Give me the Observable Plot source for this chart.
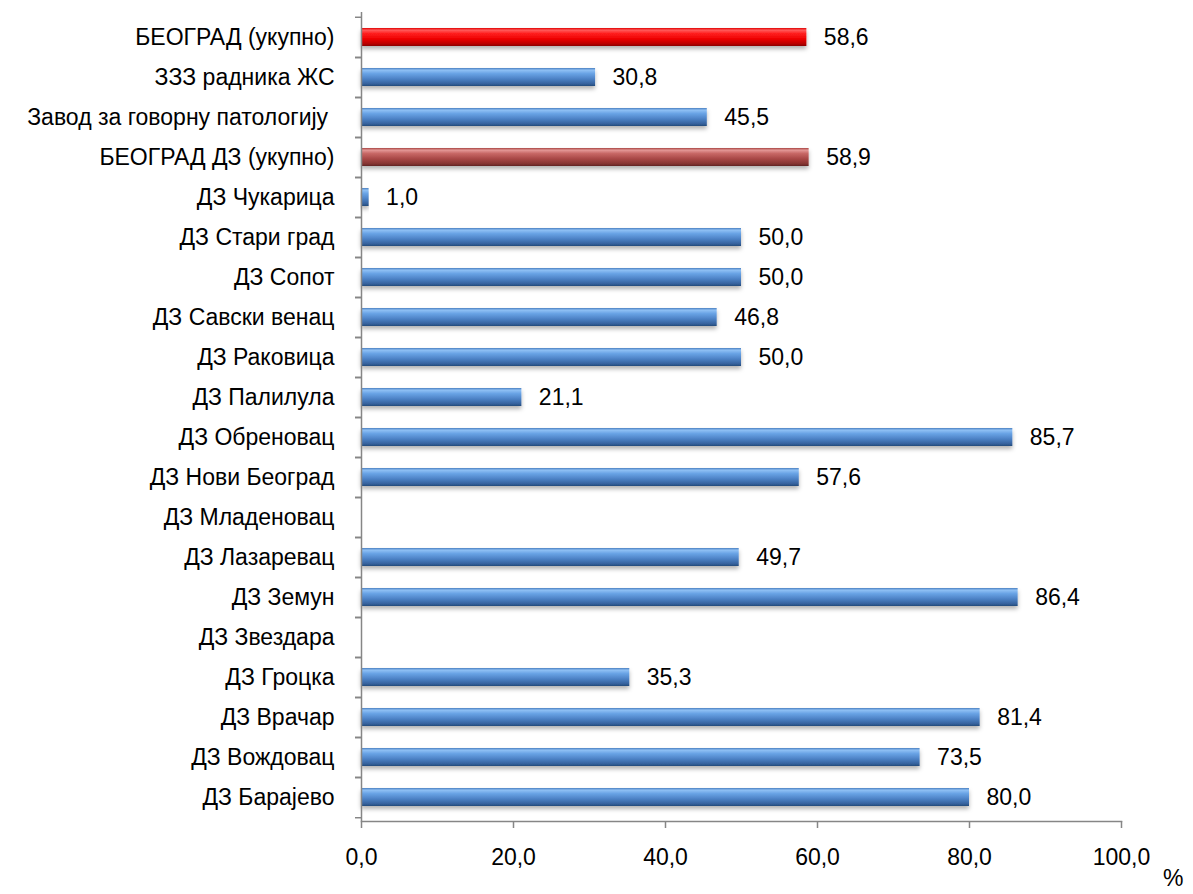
<!DOCTYPE html>
<html>
<head>
<meta charset="utf-8">
<script src="https://cdn.jsdelivr.net/npm/d3@7"></script>
<script src="https://cdn.jsdelivr.net/npm/@observablehq/plot@0.6"></script>
<style>
  html, body { margin: 0; padding: 0; background: #fff; }
  #chart svg { display: block; }
</style>
</head>
<body>
<div id="chart"></div>
<script>
const categories = [
  "БЕОГРАД (укупно)", "ЗЗЗ радника ЖС", "Завод за говорну патологију\u00a0", "БЕОГРАД ДЗ (укупно)",
  "ДЗ Чукарица", "ДЗ Стари град", "ДЗ Сопот", "ДЗ Савски венац", "ДЗ Раковица", "ДЗ Палилула",
  "ДЗ Обреновац", "ДЗ Нови Београд", "ДЗ Младеновац", "ДЗ Лазаревац", "ДЗ Земун", "ДЗ Звездара",
  "ДЗ Гроцка", "ДЗ Врачар", "ДЗ Вождовац", "ДЗ Барајево"
];
const values = [58.6, 30.8, 45.5, 58.9, 1.0, 50.0, 50.0, 46.8, 50.0, 21.1,
                85.7, 57.6, null, 49.7, 86.4, null, 35.3, 81.4, 73.5, 80.0];
const groups = ["city", "other", "other", "dz", "other", "other", "other", "other", "other", "other",
                "other", "other", "other", "other", "other", "other", "other", "other", "other", "other"];
const xTicks = [0, 20, 40, 60, 80, 100];
const unitLabel = "%";

const data = categories.map((c, i) => ({name: c, value: values[i], group: groups[i]}));
const withValue = data.filter(d => d.value != null);

const W = 1193, H = 894;
const mt = 12, mb = 73, ml = 361, mr = 72;
const step = (H - mt - mb) / categories.length;
const fmt = v => d3.format(".1f")(v).replace(".", ",");
const axisColor = "#868686";
const font = "'Liberation Sans', Arial, sans-serif";
const fs = 23;

const barOpts = (fill, grp) => ({
  filter: d => d.group === grp,
  x: "value", y: "name", fill
});

const plot = Plot.plot({
  width: W, height: H,
  marginTop: mt, marginBottom: mb, marginLeft: ml, marginRight: mr,
  style: {fontFamily: font, fontSize: fs + "px", color: "#000", background: "#fff", overflow: "visible"},
  x: {domain: [0, 100], label: null},
  y: {domain: categories, paddingInner: 0.55, paddingOuter: 0.275, label: null},
  marks: [
    Plot.barX(withValue, barOpts("url(#gBlue)", "other")),
    Plot.barX(withValue, barOpts("url(#gRed)", "city")),
    Plot.barX(withValue, barOpts("url(#gDark)", "dz")),
    Plot.text(withValue, {x: "value", y: "name", text: d => fmt(d.value), textAnchor: "start", dx: 17, fontSize: fs, fill: "#000"}),
    Plot.ruleX([0], {stroke: axisColor, strokeWidth: 1.5}),
    Plot.frame({anchor: "bottom", stroke: axisColor, strokeWidth: 1.5}),
    Plot.axisY({tickSize: 0, tickPadding: 27, fontSize: fs, fill: "#000"}),
    Plot.axisY({tickSize: 6, text: null, dy: -step / 2, stroke: axisColor, strokeWidth: 1.5, strokeOpacity: 1}),
    Plot.axisY({tickSize: 6, text: null, dy: step / 2, stroke: axisColor, strokeWidth: 1.5, strokeOpacity: 1}),
    Plot.axisX({ticks: xTicks, text: null, tickSize: 7, stroke: axisColor, strokeWidth: 1.5, strokeOpacity: 1}),
    Plot.text(xTicks, {x: d => d, text: d => fmt(d), frameAnchor: "bottom", lineAnchor: "middle", dy: 36, fontSize: fs, fill: "#000"}),
    Plot.text([unitLabel], {frameAnchor: "bottom-right", dx: 62, dy: 64, fontSize: fs, fill: "#000"})
  ]
});

const svg = d3.select(plot);
const defs = svg.insert("defs", ":first-child");
function grad(id, stops) {
  const g = defs.append("linearGradient").attr("id", id).attr("x1", 0).attr("y1", 0).attr("x2", 0).attr("y2", 1);
  stops.forEach(([o, c]) => g.append("stop").attr("offset", o).attr("stop-color", c));
}
grad("gBlue", [[0, "#4a7fc0"], [0.12, "#8fc0f4"], [0.3, "#6aa4e6"], [0.6, "#4d82c6"], [0.88, "#35629c"], [1, "#234a7a"]]);
grad("gRed", [[0, "#e00000"], [0.12, "#ff5a5a"], [0.3, "#ff2020"], [0.6, "#ee0000"], [0.88, "#b80000"], [1, "#8a0000"]]);
grad("gDark", [[0, "#a84442"], [0.12, "#e39896"], [0.3, "#c86866"], [0.6, "#a84846"], [0.88, "#843432"], [1, "#5e2422"]]);
const f = defs.append("filter").attr("id", "shadow").attr("x", "-5%").attr("y", "-50%").attr("width", "110%").attr("height", "220%");
f.append("feDropShadow").attr("dx", 0).attr("dy", 3).attr("stdDeviation", 2).attr("flood-color", "#000").attr("flood-opacity", 0.3);
svg.selectAll("g[aria-label='bar'] rect").attr("filter", "url(#shadow)");

document.getElementById("chart").appendChild(plot);
</script>
</body>
</html>
